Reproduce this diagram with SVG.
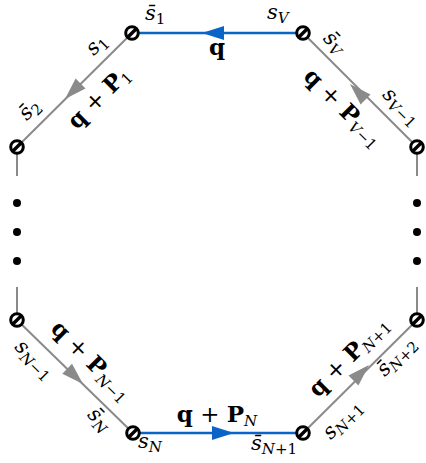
<svg xmlns="http://www.w3.org/2000/svg" xmlns:xlink="http://www.w3.org/1999/xlink" width="426" height="463" viewBox="0 0 426 463">
<style>
.g{stroke:#8a8a8a;stroke-width:2;fill:none}
.bl{stroke:#0a64c8;stroke-width:2.5;fill:none}
.ga{fill:#8a8a8a}
.ba{fill:#0a64c8}
text{font-family:"DejaVu Serif","Liberation Serif",serif;fill:#000}
.m{font-size:23px}
.b{font-weight:bold}
.s{font-size:21px;font-style:italic}
.sub{font-size:15px;font-style:italic;font-weight:normal}
.subn{font-size:15px;font-style:normal;font-weight:normal}
</style>
<defs>
<g id="nd"><circle r="6.3" fill="#fff" stroke="#000" stroke-width="3"/><line x1="-4.8" y1="4.8" x2="4.8" y2="-4.8" stroke="#000" stroke-width="3.4"/></g>
<path id="ah" d="M0,0 L-22,-7 L-22,7 Z"/>
</defs>
<g id="connectors">
<line class="bl" x1="132" y1="33" x2="303" y2="33"/>
<use xlink:href="#ah" class="ba" transform="translate(202,33) rotate(180)"/>
<line class="g" x1="132" y1="33" x2="17" y2="147"/>
<use xlink:href="#ah" class="ga" transform="translate(65,99) rotate(135)"/>
<line class="g" x1="303" y1="33" x2="417" y2="147"/>
<use xlink:href="#ah" class="ga" transform="translate(350,84) rotate(225)"/>
<line class="g" x1="17" y1="147" x2="17" y2="176"/>
<line class="g" x1="17" y1="287" x2="17" y2="320"/>
<line class="g" x1="417" y1="147" x2="417" y2="176"/>
<line class="g" x1="417" y1="287" x2="417" y2="320"/>
<line class="g" x1="17" y1="320" x2="133" y2="433"/>
<use xlink:href="#ah" class="ga" transform="translate(83,384) rotate(44)"/>
<line class="g" x1="417" y1="320" x2="303" y2="433"/>
<use xlink:href="#ah" class="ga" transform="translate(369,365) rotate(-45)"/>
<line class="bl" x1="133" y1="433" x2="303" y2="433"/>
<use xlink:href="#ah" class="ba" transform="translate(234,433)"/>
</g>
<g id="dots">
<circle cx="17" cy="203" r="4"/><circle cx="17" cy="232" r="4"/><circle cx="17" cy="261" r="4"/>
<circle cx="417" cy="203" r="4"/><circle cx="417" cy="232" r="4"/><circle cx="417" cy="261" r="4"/>
</g>
<g id="n1"><use xlink:href="#nd" x="132" y="33"/></g>
<g id="nV"><use xlink:href="#nd" x="303" y="33"/></g>
<g id="n2"><use xlink:href="#nd" x="17" y="147"/></g>
<g id="nV1"><use xlink:href="#nd" x="417" y="147"/></g>
<g id="nN1"><use xlink:href="#nd" x="17" y="320"/></g>
<g id="nN2"><use xlink:href="#nd" x="417" y="320"/></g>
<g id="nN"><use xlink:href="#nd" x="133" y="433"/></g>
<g id="nNp1"><use xlink:href="#nd" x="303" y="433"/></g>
<g id="labels">
<text class="m b" x="217" y="55" text-anchor="middle">q</text>
<text class="m" x="217" y="422" text-anchor="middle"><tspan class="b">q</tspan> + <tspan class="b">P</tspan><tspan class="sub" dy="4">N</tspan></text>
<text class="m" x="104" y="103" text-anchor="middle" transform="rotate(-45 104 103)"><tspan class="b">q</tspan> + <tspan class="b">P</tspan><tspan class="subn" dy="4">1</tspan></text>
<text class="m" x="338" y="113" text-anchor="middle" transform="rotate(45 338 113)"><tspan class="b">q</tspan> + <tspan class="b">P</tspan><tspan class="sub" dy="4">V</tspan><tspan class="subn">−1</tspan></text>
<text class="m" x="86" y="366" text-anchor="middle" transform="rotate(45 86 366)"><tspan class="b">q</tspan> + <tspan class="b">P</tspan><tspan class="sub" dy="4">N</tspan><tspan class="subn">−1</tspan></text>
<text class="m" x="354" y="362" text-anchor="middle" transform="rotate(-45 354 362)"><tspan class="b">q</tspan> + <tspan class="b">P</tspan><tspan class="sub" dy="4">N</tspan><tspan class="subn">+1</tspan></text>
<text class="s" x="145" y="20">s̄<tspan class="subn" dy="4">1</tspan></text>
<text class="s" x="267" y="19">s<tspan class="sub" dy="4">V</tspan></text>
<text class="s" x="101" y="49" text-anchor="middle" transform="rotate(-45 101 49)">s<tspan class="subn" dy="4">1</tspan></text>
<text class="s" x="34" y="114" text-anchor="middle" transform="rotate(-45 34 114)">s̄<tspan class="subn" dy="4">2</tspan></text>
<text class="s" x="330" y="47" text-anchor="middle" transform="rotate(45 330 47)">s̄<tspan class="sub" dy="4">V</tspan></text>
<text class="s" x="397" y="111" text-anchor="middle" transform="rotate(45 397 111)">s<tspan class="sub" dy="4">V</tspan><tspan class="subn">−1</tspan></text>
<text class="s" x="30" y="364" text-anchor="middle" transform="rotate(45 30 364)">s<tspan class="sub" dy="4">N</tspan><tspan class="subn">−1</tspan></text>
<text class="s" x="95" y="424" text-anchor="middle" transform="rotate(45 95 424)">s̄<tspan class="sub" dy="4">N</tspan></text>
<text class="s" x="138" y="448">s<tspan class="sub" dy="4">N</tspan></text>
<text class="s" x="251" y="450">s̄<tspan class="sub" dy="4">N</tspan><tspan class="subn">+1</tspan></text>
<text class="s" x="347" y="424" text-anchor="middle" transform="rotate(-45 347 424)">s<tspan class="sub" dy="4">N</tspan><tspan class="subn">+1</tspan></text>
<text class="s" x="401" y="361" text-anchor="middle" transform="rotate(-45 401 361)">s̄<tspan class="sub" dy="4">N</tspan><tspan class="subn">+2</tspan></text>
</g>
</svg>
